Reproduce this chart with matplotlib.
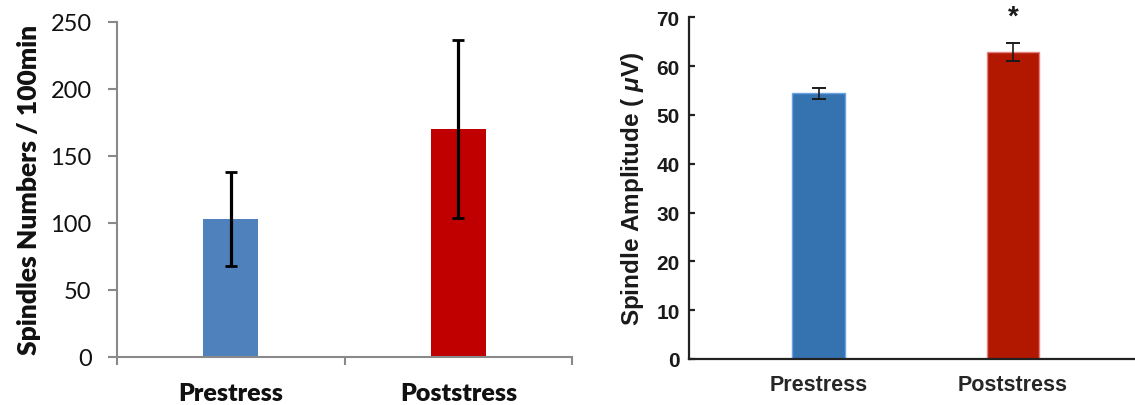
import matplotlib
matplotlib.use("Agg")
import matplotlib.pyplot as plt
from matplotlib.ticker import FixedLocator, NullFormatter

# ---- data ----
categories = ["Prestress", "Poststress"]
spindle_numbers = [103, 170]
spindle_numbers_err = [35, 66]
spindle_amplitude = [54.4, 62.9]
spindle_amplitude_err = [1.05, 1.85]
left_yticks = [0, 50, 100, 150, 200, 250]
right_yticks = [0, 10, 20, 30, 40, 50, 60, 70]

plt.rcParams['mathtext.fontset'] = 'custom'
plt.rcParams['mathtext.it'] = 'Liberation Sans:italic:bold'
plt.rcParams['mathtext.rm'] = 'Liberation Sans:bold'

W, H = 1135, 406
fig = plt.figure(figsize=(W / 100, H / 100), dpi=100)

# ---------- left panel ----------
axL = fig.add_axes([117.3 / W, 1 - 358 / H, (572 - 117.3) / W, (358 - 22.7) / H])
x = list(range(len(categories)))
axL.bar(x, spindle_numbers, width=0.242, color=["#4f81bd", "#c00000"], zorder=2)
axL.errorbar(x, spindle_numbers, yerr=spindle_numbers_err, fmt='none', ecolor='black',
             elinewidth=2.3, capsize=4.6, capthick=2.0, zorder=3)
axL.set_xlim(-0.5, 1.5)
axL.set_ylim(0, 250)
for s in ['top', 'right']:
    axL.spines[s].set_visible(False)
for s in ['left', 'bottom']:
    axL.spines[s].set_color('#898989')
    axL.spines[s].set_linewidth(1.5)
axL.set_yticks(left_yticks)
axL.set_yticklabels([str(v) for v in left_yticks], fontfamily='Lato', fontsize=17, color='#111111')
axL.tick_params(axis='y', direction='out', length=6.5, width=1.5, color='#898989', pad=12)
axL.xaxis.set_major_locator(FixedLocator([-0.5, 0.5, 1.5]))
axL.xaxis.set_major_formatter(NullFormatter())
axL.xaxis.set_minor_locator(FixedLocator(x))
axL.set_xticklabels(categories, minor=True, fontfamily='Lato', fontweight='heavy', fontsize=18, color='#111111')
axL.tick_params(axis='x', which='major', direction='out', length=6, width=1.5, color='#898989')
axL.tick_params(axis='x', which='minor', length=0, pad=18)
axL.set_ylabel("Spindles Numbers / 100min", fontfamily='Lato', fontweight='heavy', fontsize=19,
               color='#111111', labelpad=7)

# ---------- right panel ----------
axR = fig.add_axes([689.3 / W, 1 - 360 / H, (W - 689.3) / W, (360 - 18.3) / H])
axR.bar(x, spindle_amplitude, width=0.27, color=["#3572b0", "#b21800"],
        edgecolor=["#6aa3e6", "#e38080"], linewidth=1.0, zorder=2)
axR.errorbar(x, spindle_amplitude, yerr=spindle_amplitude_err, fmt='none', ecolor='#1a1a1a',
             elinewidth=1.2, capsize=5, capthick=1.4, zorder=3)
axR.set_xlim(-0.666, 1.628)
axR.set_ylim(0, 70)
for s in ['top', 'right']:
    axR.spines[s].set_visible(False)
for s in ['left', 'bottom']:
    axR.spines[s].set_color('#222222')
    axR.spines[s].set_linewidth(1.6)
axR.set_yticks(right_yticks)
axR.set_yticklabels([str(v) for v in right_yticks], fontfamily='Liberation Sans', fontweight='bold',
                    fontsize=15, color='#1a1a1a')
axR.tick_params(axis='y', direction='in', length=4, width=1.6, color='#222222', pad=7)
axR.set_xticks(x)
axR.set_xticklabels(categories, fontfamily='Liberation Sans', fontweight='bold', fontsize=15.5,
                    color='#262626')
axR.tick_params(axis='x', direction='in', length=4, width=1.6, color='#222222', pad=11)
axR.set_ylabel(r"Spindle Amplitude ( $\mathit{\mu}$V)", fontfamily='Liberation Sans', fontweight='bold',
               fontsize=17.5, color='#1a1a1a', labelpad=7)
axR.text(1, spindle_amplitude[1] + spindle_amplitude_err[1] + 5.4, "*", ha='center', va='center',
         fontfamily='Liberation Sans', fontweight='bold', fontsize=20, color='#1a1a1a', clip_on=False)

fig.savefig("out.png", dpi=100)
